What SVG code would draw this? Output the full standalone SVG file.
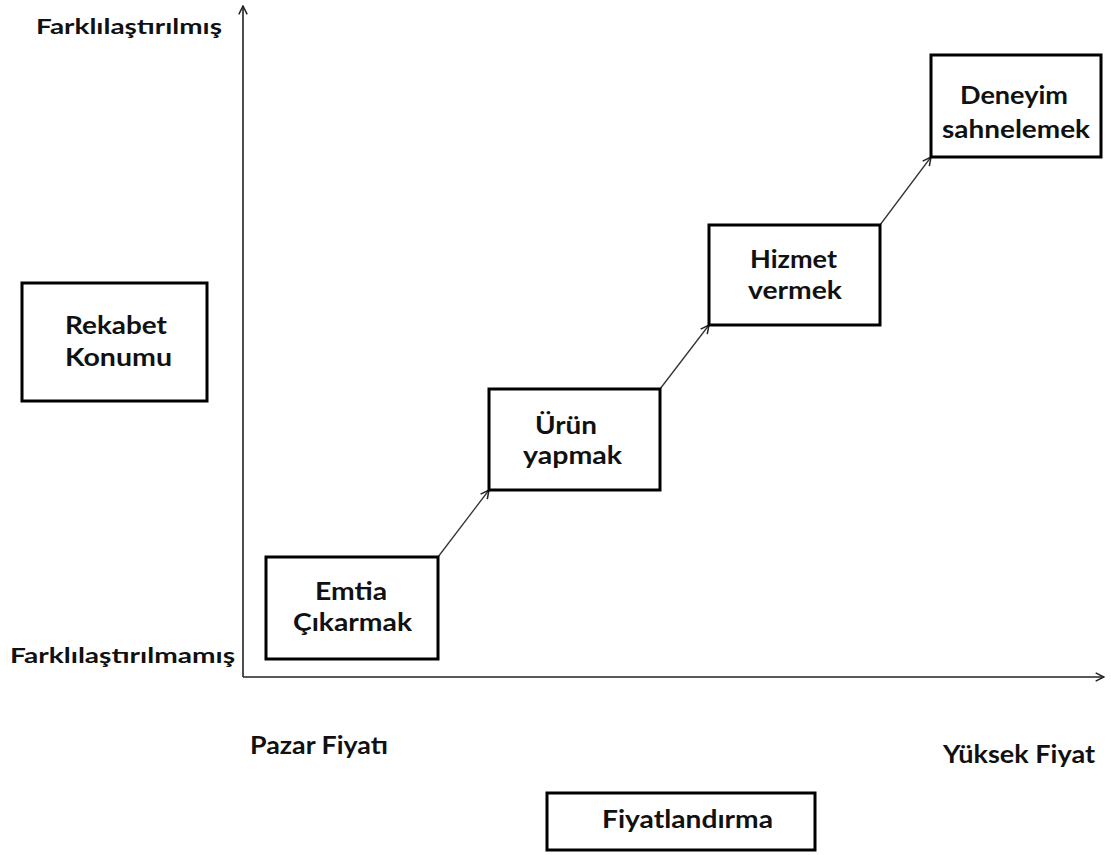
<svg xmlns="http://www.w3.org/2000/svg" width="1111" height="855" viewBox="0 0 1111 855">
<style>
.box{fill:#fff;stroke:#000;stroke-width:3}
.t{font-family:Lato,"Open Sans","Liberation Sans",sans-serif;font-weight:bold;fill:#111}
.axis{stroke:#222;stroke-width:1.6;fill:none}
.conn{stroke:#333;stroke-width:1.3;fill:none}
</style>
<defs>
<marker id="ah" viewBox="0 0 12 12" refX="11" refY="6" markerWidth="10" markerHeight="10" markerUnits="userSpaceOnUse" orient="auto">
<path d="M1,1 L11,6 L1,11" fill="none" stroke="#222" stroke-width="1.8"/>
</marker>
</defs>
<rect width="1111" height="855" fill="#fff"/>
<g id="axes">
<line class="axis" x1="243" y1="677" x2="243" y2="6" marker-end="url(#ah)"/>
<line class="axis" x1="243" y1="677" x2="1104" y2="677" marker-end="url(#ah)"/>
</g>
<g id="connectors">
<line class="conn" x1="438" y1="557" x2="489" y2="490" marker-end="url(#ah)"/>
<line class="conn" x1="660" y1="389" x2="709" y2="325" marker-end="url(#ah)"/>
<line class="conn" x1="880" y1="225" x2="931" y2="157" marker-end="url(#ah)"/>
</g>
<g id="label-farklilastirilmis"><text class="t" x="36" y="34" font-size="21" textLength="186" lengthAdjust="spacingAndGlyphs">Farklılaştırılmış</text></g>
<g id="label-farklilastirilmamis"><text class="t" x="10" y="663" font-size="21" textLength="225" lengthAdjust="spacingAndGlyphs">Farklılaştırılmamış</text></g>
<g id="label-pazar"><text class="t" x="250" y="754" font-size="24" textLength="138" lengthAdjust="spacingAndGlyphs">Pazar Fiyatı</text></g>
<g id="label-yuksek"><text class="t" x="943" y="763" font-size="24" textLength="152" lengthAdjust="spacingAndGlyphs">Yüksek Fiyat</text></g>
<g id="node-rekabet">
<rect class="box" x="22" y="283" width="185" height="118"/>
<text class="t" x="65" y="334" font-size="25" textLength="102" lengthAdjust="spacingAndGlyphs">Rekabet</text>
<text class="t" x="65" y="366" font-size="25" textLength="107" lengthAdjust="spacingAndGlyphs">Konumu</text>
</g>
<g id="node-emtia">
<rect class="box" x="266" y="557" width="172" height="102"/>
<text class="t" x="315" y="600" font-size="25" textLength="72" lengthAdjust="spacingAndGlyphs">Emtia</text>
<text class="t" x="293" y="631" font-size="25" textLength="119" lengthAdjust="spacingAndGlyphs">Çıkarmak</text>
</g>
<g id="node-urun">
<rect class="box" x="489" y="389" width="171" height="101"/>
<text class="t" x="535" y="434" font-size="25" textLength="62" lengthAdjust="spacingAndGlyphs">Ürün</text>
<text class="t" x="523" y="464" font-size="25" textLength="99" lengthAdjust="spacingAndGlyphs">yapmak</text>
</g>
<g id="node-hizmet">
<rect class="box" x="709" y="225" width="171" height="100"/>
<text class="t" x="750" y="268" font-size="25" textLength="87" lengthAdjust="spacingAndGlyphs">Hizmet</text>
<text class="t" x="748" y="299" font-size="25" textLength="94" lengthAdjust="spacingAndGlyphs">vermek</text>
</g>
<g id="node-deneyim">
<rect class="box" x="931" y="55" width="170" height="102"/>
<text class="t" x="960" y="104" font-size="25" textLength="108" lengthAdjust="spacingAndGlyphs">Deneyim</text>
<text class="t" x="942" y="138" font-size="25" textLength="148" lengthAdjust="spacingAndGlyphs">sahnelemek</text>
</g>
<g id="node-fiyatlandirma">
<rect class="box" x="547" y="793" width="268" height="57"/>
<text class="t" x="602" y="828" font-size="24" textLength="171" lengthAdjust="spacingAndGlyphs">Fiyatlandırma</text>
</g>
</svg>
